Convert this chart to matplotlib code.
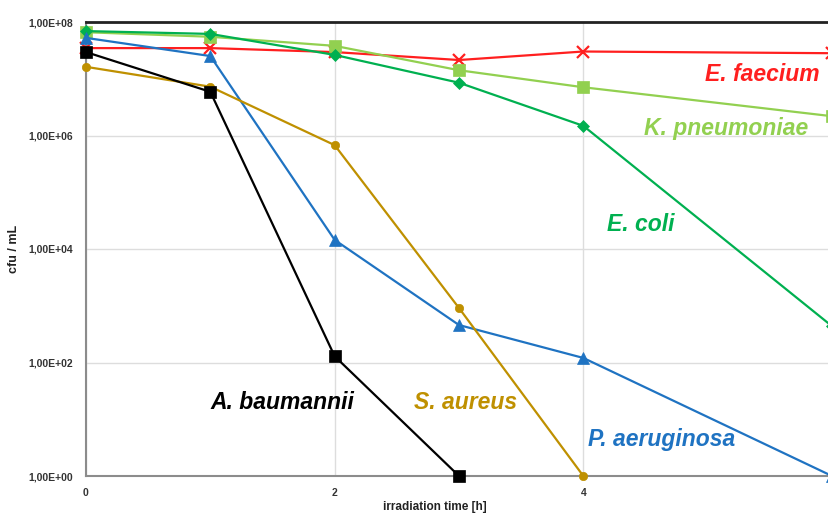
import numpy as np
import matplotlib.pyplot as plt
from matplotlib.ticker import FixedLocator, FuncFormatter

# irradiation time [h]
t = [0, 1, 2, 3, 4, 6]
t_ab = [0, 1, 2, 3]
t_sa = [0, 1, 2, 3, 4]

# log10(cfu/mL)
e_faecium = [7.54, 7.54, 7.47, 7.33, 7.48, 7.45]
k_pneumoniae = [7.82, 7.74, 7.58, 7.15, 6.85, 6.34]
e_coli = [7.84, 7.79, 7.42, 6.93, 6.17, 2.64]
p_aeruginosa = [7.72, 7.40, 4.16, 2.66, 2.08, 0.0]
s_aureus = [7.21, 6.86, 5.83, 2.96, 0.0]
a_baumannii = [7.47, 6.77, 2.11, 0.0]

series = [
    ("E. faecium", t, e_faecium, "#ff1f1f", "x", 8),
    ("K. pneumoniae", t, k_pneumoniae, "#92d050", "s", 8),
    ("E. coli", t, e_coli, "#00b050", "D", 6),
    ("P. aeruginosa", t, p_aeruginosa, "#1f73c2", "^", 8),
    ("S. aureus", t_sa, s_aureus, "#bf9000", "o", 6),
    ("A. baumannii", t_ab, a_baumannii, "black", "s", 8),
]

# label placement (data coords) for each curve name
labels = {
    "E. faecium": (5.44, 7.07),
    "K. pneumoniae": (5.15, 6.13),
    "E. coli": (4.46, 4.44),
    "A. baumannii": (1.58, 1.29),
    "S. aureus": (3.05, 1.30),
    "P. aeruginosa": (4.63, 0.65),
}

plt.rcParams['font.family'] = ['Liberation Sans', 'DejaVu Sans']

fig = plt.figure(figsize=(8.29, 5.14), dpi=100)
ax = fig.add_axes([86 / 829, 38 / 514, 746 / 829, 454 / 514])

for name, x, y, c, m, ms in series:
    ax.plot(x, 10.0 ** np.array(y), color=c, lw=1.6, marker=m, ms=ms,
            mew=1.6 if m == "x" else 0.5, zorder=3, clip_on=False)
    lx, ly = labels[name]
    ax.text(lx, 10.0 ** ly, name, color=c, fontsize=16.5, fontweight='bold',
            fontstyle='italic', ha='center', va='center')

ax.set_yscale('log')
ax.set_xlim(0, 6)
ax.set_ylim(1, 1e8)
ax.xaxis.set_major_locator(FixedLocator([0, 2, 4, 6]))
ax.xaxis.set_major_formatter(FuncFormatter(lambda v, p: "" if v > 5 else "%d" % v))
ax.yaxis.set_major_locator(FixedLocator([1, 1e2, 1e4, 1e6, 1e8]))
ax.yaxis.set_minor_locator(FixedLocator([]))
ax.yaxis.set_major_formatter(FuncFormatter(lambda v, p: "1,00E+%02d" % round(np.log10(v))))
ax.tick_params(length=0, labelsize=7.5, pad=9)
for lab in ax.get_xticklabels() + ax.get_yticklabels():
    lab.set_fontweight('bold')
    lab.set_color('#333333')

ax.grid(True, color='#dddddd', lw=1)
ax.set_axisbelow(True)
for s in ['left', 'bottom']:
    ax.spines[s].set_color('#8c8c8c')
    ax.spines[s].set_linewidth(1.5)
ax.spines['right'].set_visible(False)
ax.spines['top'].set_color('#222222')
ax.spines['top'].set_linewidth(2)

ax.set_xlabel("irradiation time [h]", fontsize=8.5, fontweight='bold', color='#222222')
ax.xaxis.set_label_coords((435 - 86) / 746, -25 / 454)
ax.set_ylabel("cfu / mL", fontsize=9, fontweight='bold', color='#222222')
ax.yaxis.set_label_coords(-66 / 746, 0.5)

fig.savefig("out.png", dpi=100)
